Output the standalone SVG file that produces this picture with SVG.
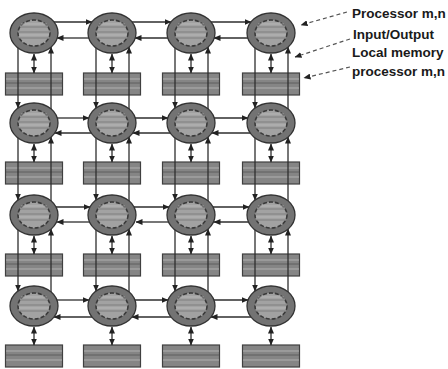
<svg xmlns="http://www.w3.org/2000/svg" xmlns:xlink="http://www.w3.org/1999/xlink" width="448" height="369" viewBox="0 0 448 369">
<style>
.ln{stroke:#2e2e2e;stroke-width:1.3;fill:none;marker-end:url(#ah)}
.dbl{stroke:#2e2e2e;stroke-width:1.3;fill:none;marker-end:url(#ah);marker-start:url(#ah)}
.lead{stroke:#555;stroke-width:1.2;fill:none;stroke-dasharray:4 3;marker-end:url(#ah)}
.lbl{font-family:"Liberation Sans",Arial,sans-serif;font-weight:bold;font-size:13.5px;fill:#1a1a1a}
</style>
<defs>
<marker id="ah" markerUnits="userSpaceOnUse" markerWidth="7" markerHeight="6" refX="6.5" refY="3" orient="auto-start-reverse"><path d="M0,0 L7,3 L0,6 z" fill="#222"/></marker>
<g id="proc">
<ellipse rx="24" ry="20" fill="#737373" stroke="#333" stroke-width="1.3"/>
<ellipse rx="16" ry="13" fill="#a2a2a2" stroke="#3a3a3a" stroke-width="1.6" stroke-dasharray="4 2"/>
<path d="M-14,-6 H14 M-16,-1 H16 M-15,5 H15" stroke="#7e7e7e" stroke-width="1.2"/>
<path d="M-13,-9 H13 M-15,2 H15" stroke="#bdbdbd" stroke-width="0.8"/>
</g>
<g id="mem">
<rect x="-28.5" y="0" width="57" height="22" fill="#858585" stroke="#404040" stroke-width="1.2"/>
<path d="M-28,6 H28 M-28,15 H28" stroke="#b0b0b0" stroke-width="1"/>
<path d="M-28,10 H28" stroke="#5e5e5e" stroke-width="1"/>
</g>
</defs>
<rect width="448" height="369" fill="#fff"/>
<g id="memories">
<g id="m11" transform="translate(34,73)"><use href="#mem"/></g>
<g id="m12" transform="translate(112,73)"><use href="#mem"/></g>
<g id="m13" transform="translate(191,73)"><use href="#mem"/></g>
<g id="m14" transform="translate(271,73)"><use href="#mem"/></g>
<g id="m21" transform="translate(34,162)"><use href="#mem"/></g>
<g id="m22" transform="translate(112,162)"><use href="#mem"/></g>
<g id="m23" transform="translate(191,162)"><use href="#mem"/></g>
<g id="m24" transform="translate(271,162)"><use href="#mem"/></g>
<g id="m31" transform="translate(34,254)"><use href="#mem"/></g>
<g id="m32" transform="translate(112,254)"><use href="#mem"/></g>
<g id="m33" transform="translate(191,254)"><use href="#mem"/></g>
<g id="m34" transform="translate(271,254)"><use href="#mem"/></g>
<g id="m41" transform="translate(34,345)"><use href="#mem"/></g>
<g id="m42" transform="translate(112,345)"><use href="#mem"/></g>
<g id="m43" transform="translate(191,345)"><use href="#mem"/></g>
<g id="m44" transform="translate(271,345)"><use href="#mem"/></g>
</g>
<g id="connectors">
<path class="dbl" d="M34,54 V73"/><path class="dbl" d="M112,54 V73"/><path class="dbl" d="M191,54 V73"/><path class="dbl" d="M271,54 V73"/>
<path class="dbl" d="M34,144 V162"/><path class="dbl" d="M112,144 V162"/><path class="dbl" d="M191,144 V162"/><path class="dbl" d="M271,144 V162"/>
<path class="dbl" d="M34,236 V254"/><path class="dbl" d="M112,236 V254"/><path class="dbl" d="M191,236 V254"/><path class="dbl" d="M271,236 V254"/>
<path class="dbl" d="M34,327 V345"/><path class="dbl" d="M112,327 V345"/><path class="dbl" d="M191,327 V345"/><path class="dbl" d="M271,327 V345"/>
<path class="ln" d="M18,48 V108"/><path class="ln" d="M96,48 V108"/><path class="ln" d="M175,48 V108"/><path class="ln" d="M255,48 V108"/>
<path class="ln" d="M18,138 V200"/><path class="ln" d="M96,138 V200"/><path class="ln" d="M175,138 V200"/><path class="ln" d="M255,138 V200"/>
<path class="ln" d="M18,230 V291"/><path class="ln" d="M96,230 V291"/><path class="ln" d="M175,230 V291"/><path class="ln" d="M255,230 V291"/>
<path class="ln" d="M51,109 V47"/><path class="ln" d="M129,109 V47"/><path class="ln" d="M208,109 V47"/><path class="ln" d="M288,109 V47"/>
<path class="ln" d="M51,201 V137"/><path class="ln" d="M129,201 V137"/><path class="ln" d="M208,201 V137"/><path class="ln" d="M288,201 V137"/>
<path class="ln" d="M51,292 V229"/><path class="ln" d="M129,292 V229"/><path class="ln" d="M208,292 V229"/><path class="ln" d="M288,292 V229"/>
<path class="ln" d="M54,22 H92"/><path class="ln" d="M132,22 H171"/><path class="ln" d="M211,22 H251"/>
<path class="ln" d="M57,118 H89"/><path class="ln" d="M135,118 H168"/><path class="ln" d="M214,118 H248"/>
<path class="ln" d="M56,207 H90"/><path class="ln" d="M134,207 H169"/><path class="ln" d="M213,207 H249"/>
<path class="ln" d="M57,300 H89"/><path class="ln" d="M135,300 H168"/><path class="ln" d="M214,300 H248"/>
<path class="ln" d="M89,38 H57"/><path class="ln" d="M168,38 H135"/><path class="ln" d="M248,38 H214"/>
<path class="ln" d="M91,133 H55"/><path class="ln" d="M170,133 H133"/><path class="ln" d="M250,133 H212"/>
<path class="ln" d="M89,222 H57"/><path class="ln" d="M168,222 H136"/><path class="ln" d="M248,222 H214"/>
<path class="ln" d="M92,317 H54"/><path class="ln" d="M171,317 H132"/><path class="ln" d="M251,317 H211"/>
<path class="lead" d="M347,12 L301,25"/>
<path class="lead" d="M350,39 L295,57"/>
<path class="lead" d="M350,67 L304,78"/>
</g>
<g id="processors">
<g id="p11" transform="translate(34,33)"><use href="#proc"/></g>
<g id="p12" transform="translate(112,33)"><use href="#proc"/></g>
<g id="p13" transform="translate(191,33)"><use href="#proc"/></g>
<g id="p14" transform="translate(271,33)"><use href="#proc"/></g>
<g id="p21" transform="translate(34,123)"><use href="#proc"/></g>
<g id="p22" transform="translate(112,123)"><use href="#proc"/></g>
<g id="p23" transform="translate(191,123)"><use href="#proc"/></g>
<g id="p24" transform="translate(271,123)"><use href="#proc"/></g>
<g id="p31" transform="translate(34,215)"><use href="#proc"/></g>
<g id="p32" transform="translate(112,215)"><use href="#proc"/></g>
<g id="p33" transform="translate(191,215)"><use href="#proc"/></g>
<g id="p34" transform="translate(271,215)"><use href="#proc"/></g>
<g id="p41" transform="translate(34,306)"><use href="#proc"/></g>
<g id="p42" transform="translate(112,306)"><use href="#proc"/></g>
<g id="p43" transform="translate(191,306)"><use href="#proc"/></g>
<g id="p44" transform="translate(271,306)"><use href="#proc"/></g>
</g>
<g id="labels">
<text class="lbl" x="352" y="18">Processor m,n</text>
<text class="lbl" x="353" y="39">Input/Output</text>
<text class="lbl" x="352" y="57">Local memory</text>
<text class="lbl" x="352" y="76">processor m,n</text>
</g>
</svg>
